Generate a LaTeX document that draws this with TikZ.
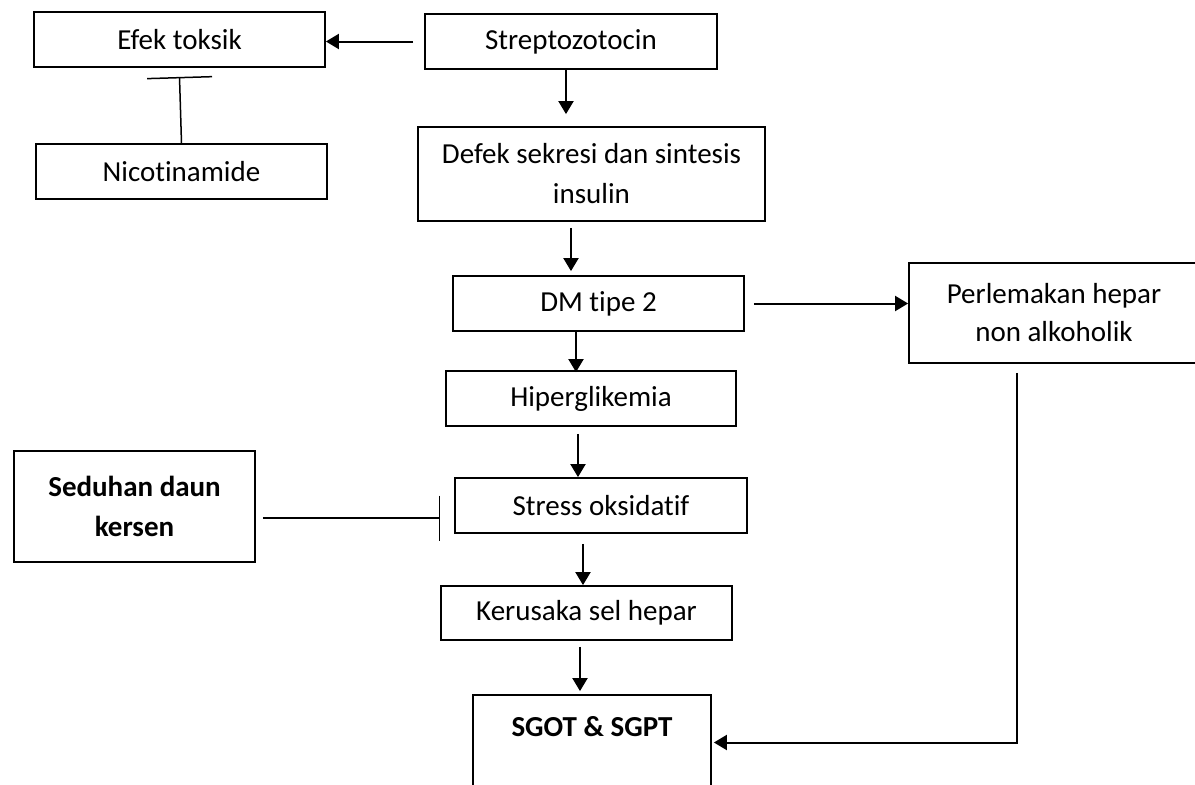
\documentclass[tikz,border=0pt]{standalone}
\usepackage{fontspec}
\setmainfont{Carlito}[Ligatures={NoCommon,NoRare,NoDiscretionary}]
\usetikzlibrary{arrows.meta,calc}
\tikzset{
  txt/.style={font=\fontsize{29pt}{40pt}\selectfont, align=center},
  box/.style={txt, draw=black, line width=1.8pt, rectangle, inner sep=0pt, fill=white},
  arr/.style={line width=2pt, -{Triangle[length=13pt,width=15pt]}},
  inh/.style={line width=1.5pt},
}
\begin{document}
\begin{tikzpicture}[x=1pt,y=-1pt]
\useasboundingbox (0,0) rectangle (1195,785);
\fill[white] (0,0) rectangle (1195,785);
\clip (0,0) rectangle (1195,785);

% nodes
\node[box, minimum width=291pt, minimum height=55pt] (efek) at (179.5,39.5) {Efek toksik};
\node[box, minimum width=292pt, minimum height=55pt] (strep) at (571,41.5) {Streptozotocin};
\node[box, minimum width=291pt, minimum height=55pt] (nico) at (181.5,171.5) {Nicotinamide};
\node[box, minimum width=347pt, minimum height=94pt] (defek) at (591.5,174) {Defek sekresi dan sintesis\\insulin};
\node[box, minimum width=291pt, minimum height=55pt] (dm) at (598.5,303.5) {DM tipe 2};
\node[box, minimum width=290pt, minimum height=55pt] (hiper) at (591,398.5) {Hiperglikemia};
\node[box, minimum width=290pt, minimum height=100pt, font=\fontsize{29pt}{38pt}\selectfont] (perl) at (1054,313) {Perlemakan hepar\\non alkoholik};
\node[box, minimum width=241pt, minimum height=111pt, font=\fontsize{29pt}{40pt}\selectfont\bfseries] (sed) at (134.5,506.5) {Seduhan daun\\kersen};
\node[box, minimum width=292pt, minimum height=55pt] (stress) at (601,505.5) {Stress oksidatif};
\node[box, minimum width=291pt, minimum height=54pt] (kerus) at (586.5,613) {Kerusaka sel hepar};
\node[box, minimum width=238pt, minimum height=95pt] (sgot) at (592,742.5) {};
\node[txt, font=\fontsize{29pt}{40pt}\selectfont\bfseries] (sgottxt) at ($(sgot.north)+(0,32)$) {SGOT \& SGPT};

% connectors
\draw[arr] ($(strep.west)+(-11,0)$) -- (strep.west -| efek.east);
\draw[arr] ($(strep.south)+(-5,0)$) -- ($(strep.south |- defek.north)+(-5,-12)$);
\draw[arr] ($(defek.south)+(-20.5,6)$) -- ($(defek.south |- dm.north)+(-20.5,-4)$);
\draw[arr] ($(dm.south)+(-22.5,0)$) -- ($(dm.south |- hiper.north)+(-22.5,2)$);
\draw[arr] ($(dm.east)+(9,0)$) -- (dm.east -| perl.west);
\draw[arr] ($(hiper.south)+(-13,7)$) -- ($(hiper.south |- stress.north)+(-13,0)$);
\draw[arr] ($(stress.south)+(-18,10)$) -- ($(stress.south |- kerus.north)+(-18,0)$);
\draw[arr] ($(kerus.south)+(-6.5,6)$) -- ($(kerus.south |- sgot.north)+(-6.5,-3)$);
\draw[arr] ($(perl.south)+(-37,9)$) |- ($(sgot.east)+(2,0)$);

% inhibition connectors
\draw[inh, -{Bar[width=65pt,line width=1.5pt]}] (nico.north) -- ($(efek.south)+(0,9)$);
\draw[inh, -{Bar[width=45pt,line width=1.5pt]}] ($(sed.east)+(7,11.5)$) -- ($(sed.east -| stress.west)+(-14,11.5)$);
\end{tikzpicture}
\end{document}
